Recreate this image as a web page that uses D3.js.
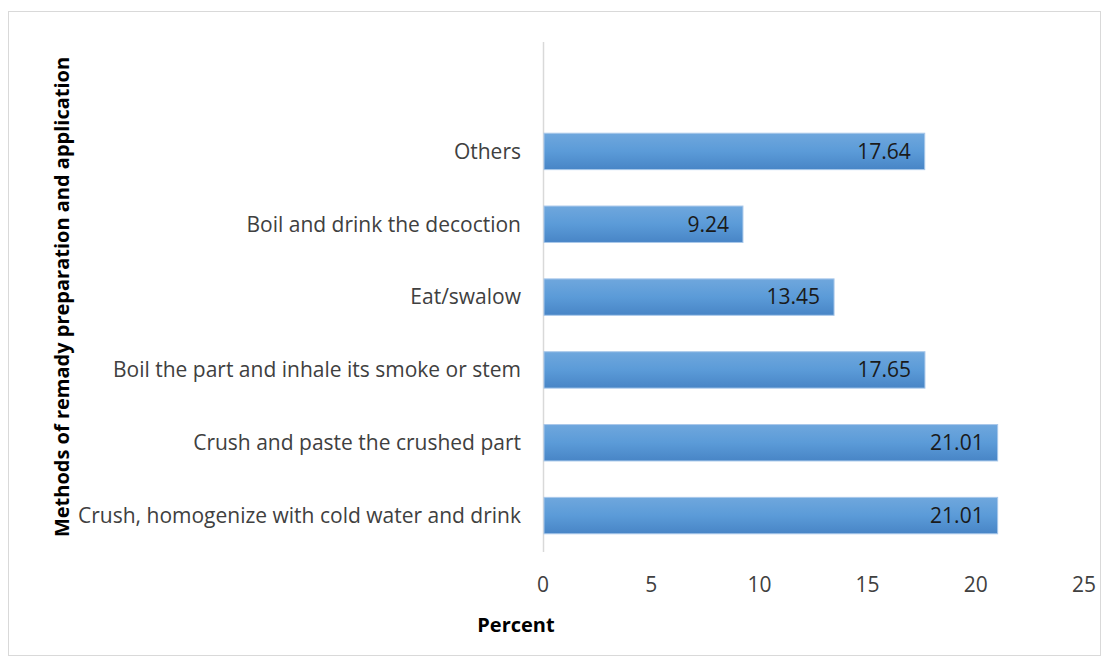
<!DOCTYPE html>
<html><head><meta charset="utf-8">
<script src="https://cdn.jsdelivr.net/npm/d3@7"></script>
<style>body{margin:0;background:#fff}svg{display:block}text{font-family:"Open Sans",sans-serif}</style>
</head><body><svg id="c" width="1110" height="662"></svg>
<script>
const categories = ["Others","Boil and drink the decoction","Eat/swalow","Boil the part and inhale its smoke or stem","Crush and paste the crushed part","Crush, homogenize with cold water and drink"];
const values = [17.64, 9.24, 13.45, 17.65, 21.01, 21.01];
const valueLabels = ["17.64","9.24","13.45","17.65","21.01","21.01"];
const xTicks = [0,5,10,15,20,25];
const xTitle = "Percent";
const yTitle = "Methods of remady preparation and application";

const svg = d3.select("#c");
svg.append("rect").attr("x",8.5).attr("y",11.5).attr("width",1092).attr("height",644)
  .attr("fill","#fff").attr("stroke","#d9d9d9");

const defs = svg.append("defs");
const g = defs.append("linearGradient").attr("id","bg").attr("x1",0).attr("y1",0).attr("x2",0).attr("y2",1);
g.append("stop").attr("offset","0%").attr("stop-color","#6fa7dd");
g.append("stop").attr("offset","50%").attr("stop-color","#5b9bd8");
g.append("stop").attr("offset","100%").attr("stop-color","#4885c6");

const x = d3.scaleLinear().domain([0,25]).range([543,1084]);
const y = d3.scaleBand().domain(categories).range([115,552]).paddingInner(0.5).paddingOuter(0.25);

svg.append("line").attr("x1",543.5).attr("x2",543.5).attr("y1",42).attr("y2",552)
  .attr("stroke","#d9d9d9").attr("stroke-width",1.5);

svg.selectAll("rect.bar").data(values).join("rect").attr("class","bar")
  .attr("x",x(0)+1).attr("y",(d,i)=>y(categories[i]))
  .attr("width",d=>x(d)-x(0)-1).attr("height",y.bandwidth())
  .attr("fill","url(#bg)").attr("stroke","#a9c8ea").attr("stroke-width",1);

svg.selectAll("text.val").data(values).join("text").attr("class","val")
  .attr("x",d=>x(d)-14).attr("y",(d,i)=>y(categories[i])+y.bandwidth()/2)
  .attr("dy","0.35em").attr("text-anchor","end").attr("font-size",21).attr("fill","#1a1a1a")
  .text((d,i)=>valueLabels[i]);

svg.selectAll("text.cat").data(categories).join("text").attr("class","cat")
  .attr("x",521).attr("y",d=>y(d)+y.bandwidth()/2).attr("dy","0.35em")
  .attr("text-anchor","end").attr("font-size",21).attr("fill","#404040").text(d=>d);

svg.selectAll("text.tick").data(xTicks).join("text").attr("class","tick")
  .attr("x",d=>x(d)).attr("y",585).attr("dy","0.35em").attr("text-anchor","middle")
  .attr("font-size",21).attr("fill","#404040").text(d=>d);

svg.append("text").attr("x",516).attr("y",625).attr("dy","0.35em").attr("text-anchor","middle")
  .attr("font-size",20).attr("font-weight","bold").attr("fill","#000").text(xTitle);

svg.append("text").attr("transform","translate(62,297) rotate(-90)").attr("dy","0.35em")
  .attr("text-anchor","middle").attr("font-size",20).attr("font-weight","bold").attr("fill","#000").text(yTitle);
</script></body></html>
